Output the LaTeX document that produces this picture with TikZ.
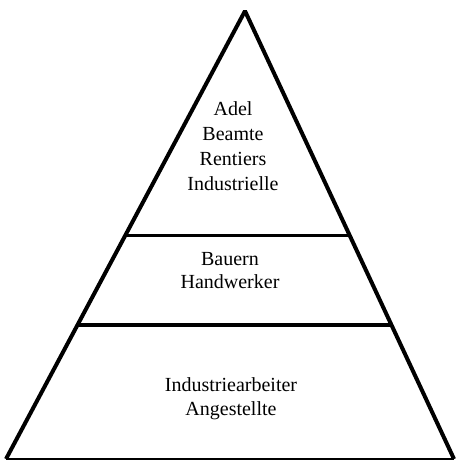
\documentclass[tikz,border=0pt]{standalone}
\usepackage{fontspec}
\setmainfont{Liberation Serif}
\usetikzlibrary{calc}
\begin{document}
\begin{tikzpicture}[x=1pt,y=-1pt,
  side/.style={line width=4pt,line cap=butt},
  divider/.style={line width=3.2pt},
  baseline rule/.style={line width=1.2pt},
  tier/.style={align=center,inner sep=0pt,anchor=north}]
  \useasboundingbox (0,0) rectangle (456,461);
  % corners of the pyramid
  \coordinate (apex) at (245,11);
  \coordinate (bl) at (6,459);
  \coordinate (br) at (454,459);
  % dividing lines between the tiers
  \coordinate (d1l) at ($(apex)!0.502!(bl)$);
  \coordinate (d1r) at ($(apex)!0.502!(br)$);
  \coordinate (d2l) at ($(apex)!0.701!(bl)$);
  \coordinate (d2r) at ($(apex)!0.701!(br)$);
  \draw[side,line join=bevel] (bl) -- (apex) -- (br);
  \draw[baseline rule] (bl) -- (br);
  \draw[divider] (d1l) -- (d1r);
  \draw[divider] (d2l) -- (d2r);
  % tier labels
  \node[tier,font={\fontsize{20}{25}\selectfont}] (top) at (233,101.3)
    {Adel\\Beamte\\Rentiers\\Industrielle};
  \node[tier,font={\fontsize{20}{23}\selectfont}] (mid) at (230,251.8)
    {Bauern\\Handwerker};
  \node[tier,font={\fontsize{20}{24}\selectfont}] (bottom) at (231,377.3)
    {Industriearbeiter\\Angestellte};
\end{tikzpicture}
\end{document}
